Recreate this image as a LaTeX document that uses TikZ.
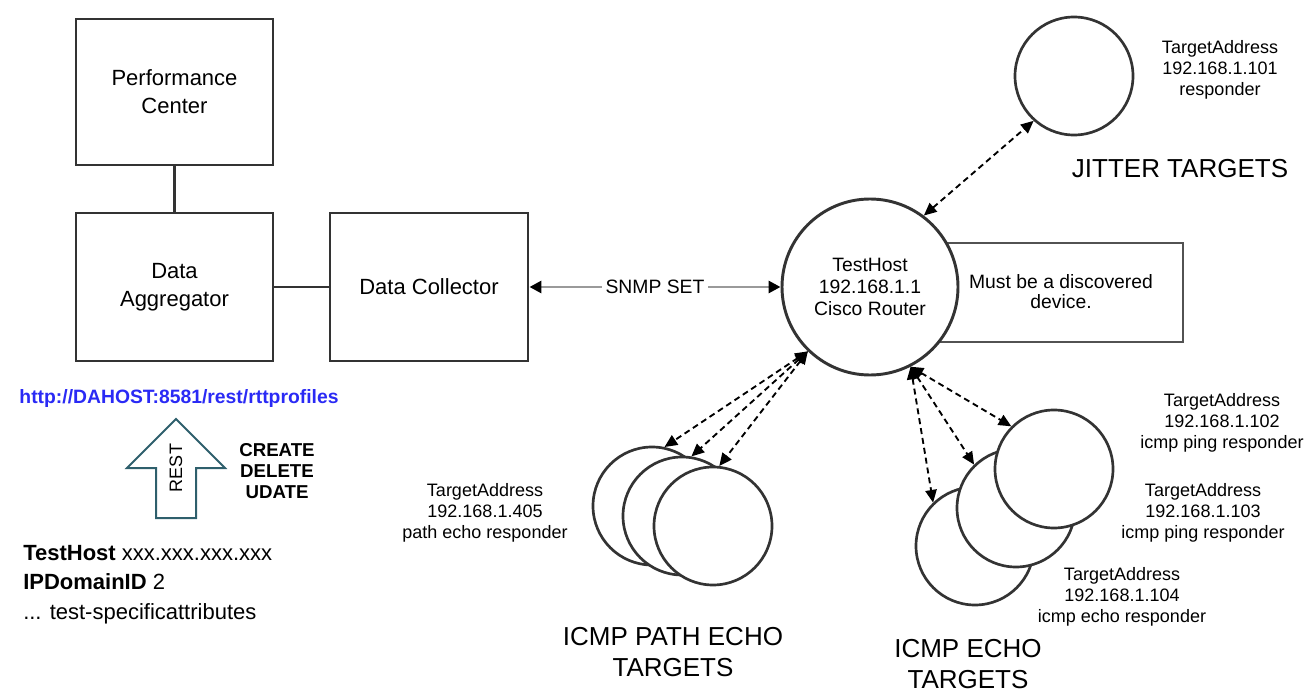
\documentclass[tikz,border=0pt]{standalone}
\usepackage{fontspec}
\setmainfont{Liberation Sans}
\usetikzlibrary{arrows.meta}
\definecolor{ink}{HTML}{333333}
\definecolor{restteal}{HTML}{2E5F6C}
\definecolor{urlblue}{HTML}{2A2AF5}
\definecolor{snmpgray}{HTML}{9A9A9A}
\tikzset{
  block/.style={draw=ink, line width=2.2pt, fill=white, align=center,
    font=\fontsize{16.5}{21}\selectfont, inner sep=0pt},
  target/.style={circle, draw=ink, line width=2pt, fill=white,
    minimum size=88.5pt, inner sep=0pt},
  router/.style={circle, draw=ink, line width=2.2pt, fill=white,
    minimum size=132pt, inner sep=0pt, align=center,
    font=\fontsize{14.5}{16.5}\selectfont},
  note/.style={draw=ink!85, line width=1.1pt, align=center,
    font=\fontsize{14.5}{15}\selectfont, inner sep=0pt},
  addr/.style={align=center, font=\fontsize{13.5}{16}\selectfont, inner sep=0pt},
  title/.style={align=center, font=\fontsize{19.5}{23}\selectfont, inner sep=0pt},
  link/.style={draw=ink, line width=2.2pt},
  snmp/.style={draw=snmpgray, line width=2.2pt,
    {Triangle[length=9pt,width=9pt,black]}-{Triangle[length=9pt,width=9pt,black]}},
  probe/.style={draw=black, line width=1.4pt, dash pattern=on 4.5pt off 3pt,
    {Triangle[length=9.5pt,width=8.5pt]}-{Triangle[length=9.5pt,width=8.5pt]}},
}
\begin{document}
\begin{tikzpicture}[x=0.75pt, y=-0.75pt]
\useasboundingbox (0,0) rectangle (1314,695);

% management side
\node[block, minimum width=147.75pt, minimum height=109.5pt] (pc) at (174.5,92) {Performance\\Center};
\node[block, minimum width=147.75pt, minimum height=111pt] (da) at (174.5,287) {Data\\Aggregator};
\node[block, minimum width=148.5pt, minimum height=111pt] (dc) at (429,287) {Data Collector};
\draw[link] (pc) -- (da);
\draw[link] (da) -- (dc);

% REST request
\node[font=\fontsize{14.5}{15}\selectfont\bfseries, text=urlblue, inner sep=0pt] (url) at (179,399) {http://DAHOST:8581/rest/rttprofiles};
\draw[draw=restteal, line width=1.5pt, line join=miter] (176,419) -- (225,468) -- (196,468) -- (196,518) -- (156,518) -- (156,468) -- (127,468) -- cycle;
\node[rotate=90, font=\fontsize{13.5}{15}\selectfont, inner sep=0pt] (rest) at (176,468) {REST};
\node[align=center, font=\fontsize{14}{16}\selectfont\bfseries, inner sep=0pt] (ops) at (277,471) {CREATE\\DELETE\\UDATE};
\node[align=left, anchor=north west, font=\fontsize{16.5}{22}\selectfont, inner sep=0pt] (attrs) at (23,545)
  {\textbf{TestHost} xxx.xxx.xxx.xxx\\\textbf{IPDomainID} 2\\... test-specificattributes};

% test host
\node[note, minimum width=186pt, minimum height=74.25pt] (must) at (1059,292.5) {};
\node[router] (router) at (870,287) {TestHost\\192.168.1.1\\Cisco Router};
\node[note, draw=none, fill=none] at (1061,292) {Must be a discovered\\device.};
\draw[snmp] (dc) -- node[fill=white, inner sep=3pt, font=\fontsize{14.5}{16}\selectfont] (snmpset) {SNMP SET} (router);

% jitter target
\node[target] (jit) at (1074,76) {};
\node[addr] (jitaddr) at (1220,70) {TargetAddress\\192.168.1.101\\responder};
\node[title] (jittitle) at (1180,169) {JITTER TARGETS};
\draw[probe] (router.53) -- (jit.228);

% path echo targets
\node[target] (pe1) at (652,506) {};
\node[target] (pe2) at (682,516) {};
\node[target] (pe3) at (713,526) {};
\node[addr] (peaddr) at (485,513) {TargetAddress\\192.168.1.405\\path echo responder};
\node[title] (petitle) at (673,652) {ICMP PATH ECHO\\TARGETS};
\draw[probe] (router.226) -- (pe1.78);
\draw[probe] (router.226) -- (pe2.81);
\draw[probe] (router.226) -- (pe3.84);

% echo targets
\node[target] (e3) at (975,546) {};
\node[target] (e2) at (1016,508) {};
\node[target] (e1) at (1054,469) {};
\node[addr] (e1addr) at (1222,423) {TargetAddress\\192.168.1.102\\icmp ping responder};
\node[addr] (e2addr) at (1203,513) {TargetAddress\\192.168.1.103\\icmp ping responder};
\node[addr] (e3addr) at (1122,597) {TargetAddress\\192.168.1.104\\icmp echo responder};
\node[title] (etitle) at (968,664) {ICMP ECHO\\TARGETS};
\draw[probe] (router.297) -- (e1.135);
\draw[probe] (router.297) -- (e2.134);
\draw[probe] (router.297) -- (e3.134);
\end{tikzpicture}
\end{document}
